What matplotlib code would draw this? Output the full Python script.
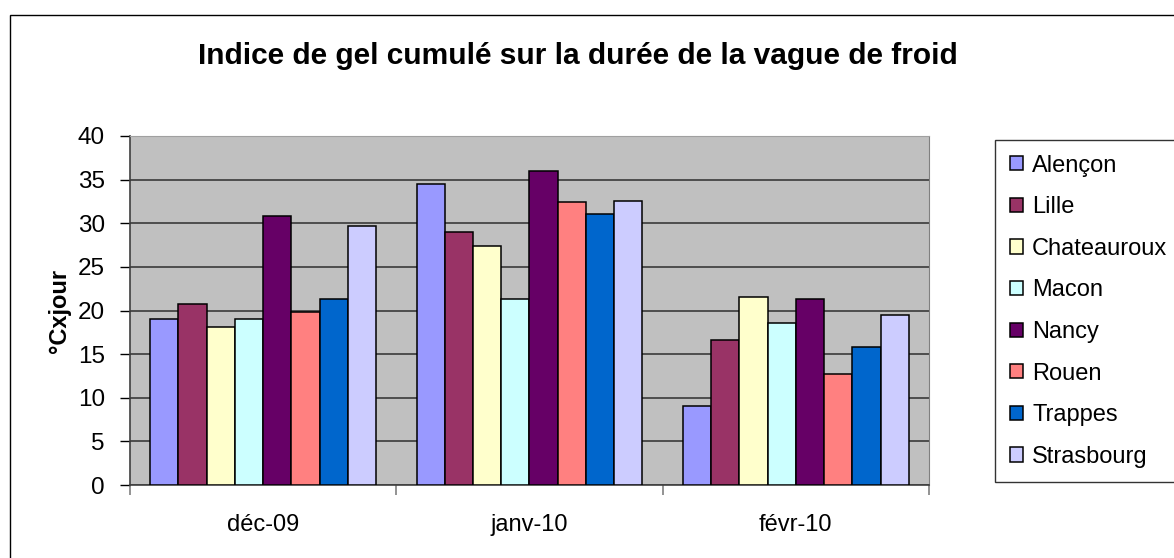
"""Indice de gel cumulé - bar chart."""

import matplotlib
matplotlib.use("Agg")
import matplotlib.pyplot as plt
from matplotlib.patches import Rectangle
import numpy as np

plt.rcParams['font.family'] = ['Liberation Sans', 'DejaVu Sans']

months = ["déc-09", "janv-10", "févr-10"]
stations = ["Alençon", "Lille", "Chateauroux", "Macon", "Nancy", "Rouen", "Trappes", "Strasbourg"]
colors = ["#9999FF", "#993366", "#FFFFCC", "#CCFFFF", "#660066", "#FF8080", "#0066CC", "#CCCCFF"]

alencon = [19.0, 34.5, 9.0]
lille = [20.8, 29.0, 16.6]
chateauroux = [18.1, 27.4, 21.6]
macon = [19.0, 21.3, 18.6]
nancy = [30.8, 36.0, 21.3]
rouen = [19.8, 32.4, 12.7]
trappes = [21.3, 31.1, 15.8]
strasbourg = [29.7, 32.6, 19.5]

series = [alencon, lille, chateauroux, macon, nancy, rouen, trappes, strasbourg]

DPI = 100
fig = plt.figure(figsize=(11.74, 5.58), dpi=DPI)
fig.patch.set_facecolor("white")

# outer chart border
fig.patches.append(Rectangle((10 / 1174, -0.05), 1.2, 0.05 + 1 - 15 / 558,
                             transform=fig.transFigure, fill=False,
                             edgecolor="black", linewidth=1.0))

ax = fig.add_axes([130 / 1174, 73 / 558, 799 / 1174, 349 / 558])
ax.set_facecolor("#C0C0C0")

x = np.arange(len(months))
width = 0.106
for i, (name, vals) in enumerate(zip(stations, series)):
    ax.bar(x + (i - 3.5) * width, vals, width, color=colors[i], edgecolor="black",
           linewidth=1.1, label=name, zorder=3)

ax.set_xlim(-0.5, 2.5)
ax.set_ylim(0, 40)
ax.set_yticks(np.arange(0, 41, 5))
ax.yaxis.grid(True, color="#2E2E2E", linewidth=1.1, zorder=1)
ax.set_axisbelow(True)

ax.set_xticks(x)
ax.set_xticklabels(months, fontsize=17)
ax.set_xticks([-0.5, 0.5, 1.5, 2.5], minor=True)
ax.tick_params(axis="x", which="major", length=0, pad=21)
ax.tick_params(axis="x", which="minor", length=7, color="#808080", width=1.2)
ax.tick_params(axis="y", length=7, width=1.0, color="black", labelsize=17.5, pad=11)

for side in ("left", "bottom"):
    ax.spines[side].set_color("#404040")
    ax.spines[side].set_linewidth(1.2)
ax.spines["top"].set_color("#A0A0A0")
ax.spines["right"].set_color("#808080")

ax.set_ylabel("°Cxjour", fontsize=17, fontweight="bold", labelpad=5)

fig.text(578 / 1174, 1 - 56 / 558, "Indice de gel cumulé sur la durée de la vague de froid",
         ha="center", va="center", fontsize=21.5, fontweight="bold")

leg = ax.legend(loc="upper left", bbox_to_anchor=(995 / 1174, 1 - 140 / 558),
                bbox_transform=fig.transFigure, fontsize=17, frameon=True,
                fancybox=False, edgecolor="black", handlelength=0.55,
                handleheight=0.55, handletextpad=0.4, labelspacing=0.83,
                borderpad=0.62, borderaxespad=0)
leg.get_frame().set_linewidth(1.0)

plt.savefig("out.png", facecolor=fig.get_facecolor(), dpi=DPI)
plt.close(fig)
